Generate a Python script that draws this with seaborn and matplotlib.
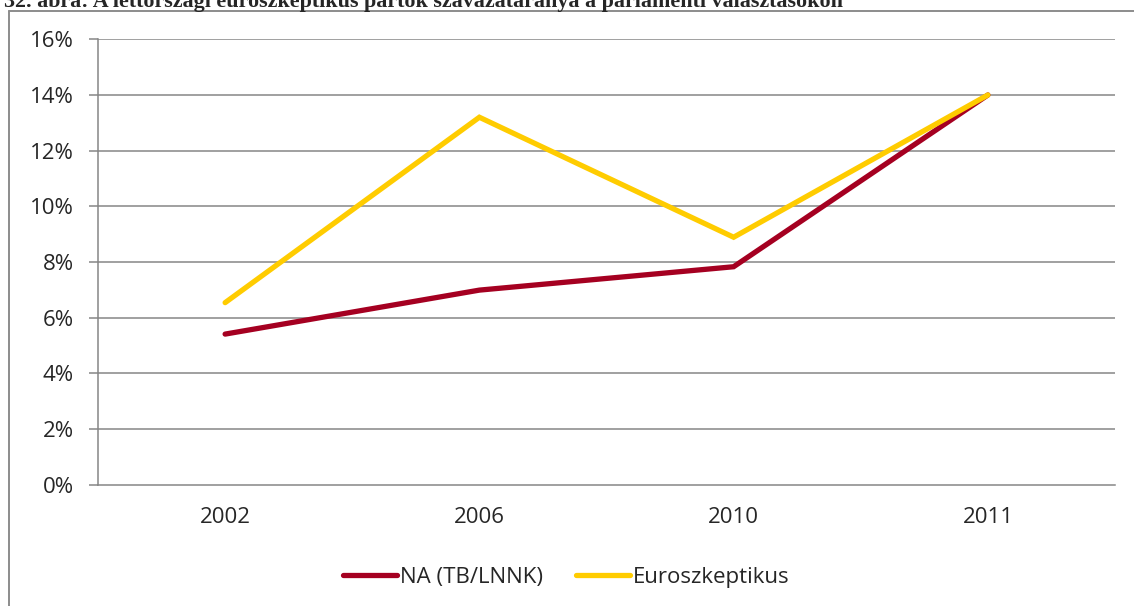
import pandas as pd
import seaborn as sns
import matplotlib.pyplot as plt
from matplotlib.lines import Line2D

# values
years = ["2002", "2006", "2010", "2011"]
na_tb = [5.41, 6.99, 7.83, 14.0]
euroszk = [6.54, 13.2, 8.89, 14.0]
series_names = ["NA (TB/LNNK)", "Euroszkeptikus"]
colors = ["#A50021", "#FFCC00"]
y_ticks = [0, 2, 4, 6, 8, 10, 12, 14, 16]

df = pd.DataFrame({
    "ev": list(range(len(years))) * 2,
    "arany": na_tb + euroszk,
    "sorozat": [series_names[0]] * len(years) + [series_names[1]] * len(years),
})

sns.set_style("white")
plt.rcParams["font.family"] = ["Open Sans", "DejaVu Sans"]

W, H = 1134, 606
fig = plt.figure(figsize=(W / 100, H / 100), dpi=100)
ax = fig.add_axes([98 / W, 1 - 484.7 / H, (1115 - 98) / W, (484.7 - 39.3) / H])

sns.lineplot(data=df, x="ev", y="arany", hue="sorozat", palette=colors,
             hue_order=series_names, linewidth=3.8, ax=ax, legend=False)
for ln in ax.lines:
    ln.set_solid_capstyle("round")
    ln.set_solid_joinstyle("miter")

grid_col = "#868686"
fs = 16
ax.set_ylim(0, 16)
ax.set_yticks(y_ticks)
ax.set_yticklabels([f"{t}%" for t in y_ticks], fontsize=fs)
for t in y_ticks[1:]:
    ax.axhline(t, color=grid_col, lw=1.1, zorder=0)

ax.set_xlim(-0.5, len(years) - 0.5)
ax.set_xticks(range(len(years)))
ax.set_xticklabels(years, fontsize=fs)
ax.set_xticks([i - 0.5 for i in range(len(years) + 1)], minor=True)
ax.tick_params(axis="x", which="major", length=0, pad=16)
ax.tick_params(axis="x", which="minor", length=6.5, width=1.1, color=grid_col, direction="out")
ax.tick_params(axis="y", length=6.5, width=1.1, color=grid_col, direction="out", pad=11, left=True)
ax.set_xlabel("")
ax.set_ylabel("")

for s in ["top", "right"]:
    ax.spines[s].set_visible(False)
for s in ["left", "bottom"]:
    ax.spines[s].set_color(grid_col)
    ax.spines[s].set_linewidth(1.1)

handles = [Line2D([], [], color=c, lw=3.8, solid_capstyle="round") for c in colors]
fig.legend(handles, series_names, loc="center", bbox_to_anchor=(0.4996, 1 - 577 / H),
           ncol=2, frameon=False, fontsize=fs, handlelength=2.4, handletextpad=0.15,
           columnspacing=1.5)

# outer chart frame (only top and left edges visible)
fig.add_artist(Line2D([9 / W, 1], [1 - 10.5 / H, 1 - 10.5 / H], color="#8c8c8c", lw=1.4))
fig.add_artist(Line2D([9 / W, 9 / W], [0, 1 - 10.5 / H], color="#8c8c8c", lw=1.4))

# figure caption, clipped at the top edge as in the reference
fig.text(4 / W, 1 - 7.5 / H,
         "32. ábra: A lettországi euroszkeptikus pártok szavazataránya a parlamenti választásokon",
         fontsize=15.8, fontweight="bold", family="Liberation Serif", va="baseline", ha="left")

plt.savefig("out.png", dpi=100)
